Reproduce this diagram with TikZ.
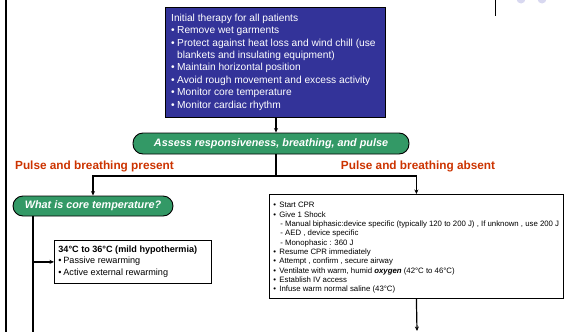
\documentclass[tikz,border=0pt]{standalone}
\usepackage{fontspec}
\setmainfont{Liberation Sans}
\usetikzlibrary{arrows.meta, positioning, calc}

\definecolor{therapyblue}{RGB}{51,51,153}
\definecolor{assessgreen}{RGB}{51,153,102}
\definecolor{pulsered}{RGB}{204,51,0}
\definecolor{dotlilac}{RGB}{216,216,240}

\newcommand{\bul}{\makebox[6pt][l]{\textbullet}}
\newcommand{\sbul}{\makebox[6pt][l]{\textbullet}}

\begin{document}
\begin{tikzpicture}[x=1pt, y=-1pt, >=Stealth,
  bluebox/.style={draw=black, fill=therapyblue, text=white, anchor=north west,
    font=\fontsize{10.2}{12.4}\selectfont, inner xsep=6pt, inner ysep=3pt},
  pill/.style={draw=black, line width=0.9pt, fill=assessgreen, text=white,
    rounded corners=10pt, inner sep=0pt, minimum height=21pt,
    font=\fontsize{10.8}{12}\selectfont\bfseries\itshape},
  plainbox/.style={draw=black, line width=0.8pt, fill=white, anchor=north west,
    inner xsep=4pt, inner ysep=3pt},
  branchlabel/.style={text=pulsered, font=\fontsize{11.8}{13}\selectfont\bfseries},
  flow/.style={-{Stealth[length=4.5pt, width=4pt]}, line width=1.2pt},
  wire/.style={line width=1.2pt}]
  \useasboundingbox (0,0) rectangle (564,332);

  % Page decoration
  \draw[line width=2pt] (6,0) -- (6,332);
  \draw[line width=0.8pt] (495,0) -- (495,16);
  \fill[dotlilac] (521,-1) circle (4.5);
  \fill[dotlilac] (542,-1) circle (4.5);

  % Initial therapy
  \node[bluebox] (therapy) at (165,7) {\parbox[t][104pt][t]{208pt}{%
    \rule{0pt}{11pt}Initial therapy for all patients\\
    \bul Remove wet garments\\
    \bul Protect against heat loss and wind chill (use\\
    \hspace*{6pt}blankets and insulating equipment)\\
    \bul Maintain horizontal position\\
    \bul Avoid rough movement and excess activity\\
    \bul Monitor core temperature\\
    \bul Monitor cardiac rhythm}};

  \node[pill, minimum width=276pt] (assess) at (271,143.5)
    {Assess responsiveness, breathing, and pulse};

  % Branch labels
  \node[branchlabel] (present) at (94.5,166) {Pulse and breathing present};
  \node[branchlabel] (absent) at (418,166) {Pulse and breathing absent};

  % Left branch
  \node[pill, minimum width=160pt, minimum height=20pt] (temp) at (93,206)
    {What is core temperature?};

  \node[plainbox] (mild) at (54,240) {\parbox[t][37pt][t]{149pt}{%
    \fontsize{9.1}{11.4}\selectfont
    \rule{0pt}{9pt}\textbf{34°C to 36°C (mild hypothermia)}\\
    \makebox[5pt][l]{\textbullet}Passive rewarming\\
    \makebox[5pt][l]{\textbullet}Active external rewarming}};

  % Right branch
  \node[plainbox] (cpr) at (269,194) {\parbox[t][98pt][t]{286pt}{%
    \fontsize{7.8}{9.3}\selectfont
    \rule{0pt}{10.5pt}\sbul Start CPR\\
    \sbul Give 1 Shock\\
    \hspace*{7pt}- Manual biphasic:device specific (typically 120 to 200 J) , If unknown , use 200 J\\
    \hspace*{7pt}- AED , device specific\\
    \hspace*{7pt}- Monophasic : 360 J\\
    \sbul Resume CPR immediately\\
    \sbul Attempt , confirm , secure airway\\
    \sbul Ventilate with warm, humid \textbf{\textit{oxygen}} (42°C to 46°C)\\
    \sbul Establish IV access\\
    \sbul Infuse warm normal saline (43°C)}};

  % Connectors
  \coordinate (split) at (276,176);
  \coordinate (tempend) at (33,332);
  \coordinate (cprend) at (417,331);
  \draw[flow] (therapy.south -| split) -- (assess.north -| split);
  \draw[wire] (assess.south -| split) -- (split);
  \draw[flow] (split) -| (temp.north);
  \draw[flow] (split) -| (cpr.north);
  \draw[wire] (temp.south -| tempend) -- (tempend);
  \draw[flow] (mild.west -| tempend) -- (mild.west);
  \draw[flow] (cpr.south) -- (cprend);
\end{tikzpicture}
\end{document}
